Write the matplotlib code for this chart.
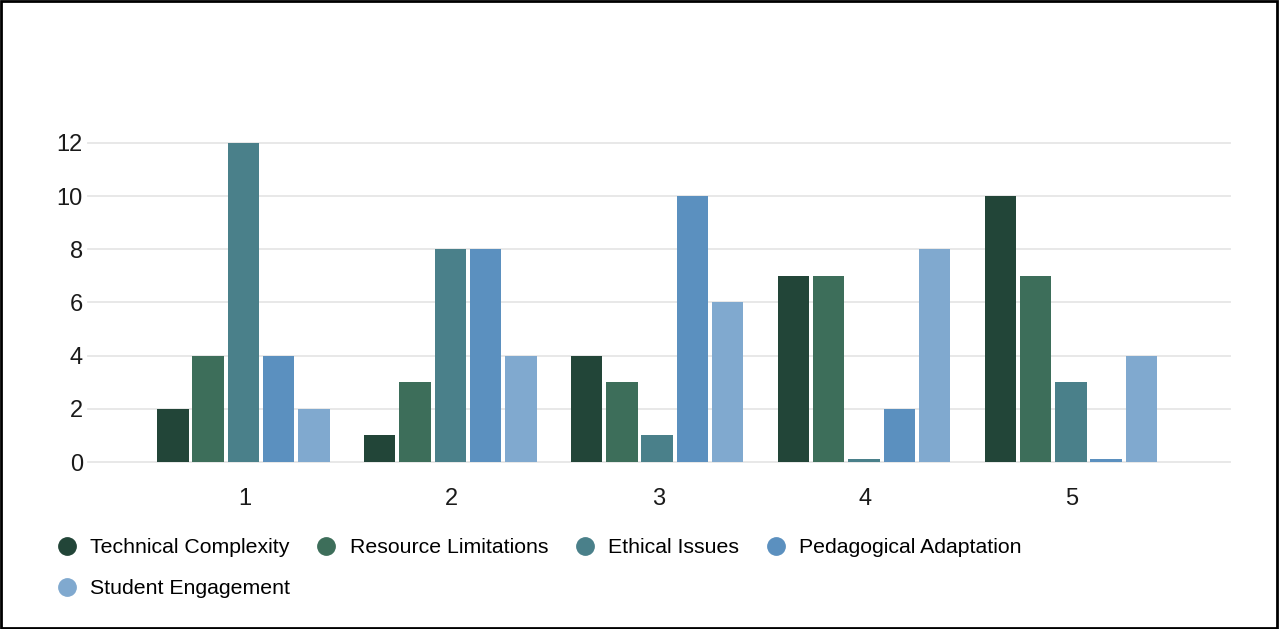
import matplotlib
matplotlib.use("Agg")
import matplotlib.pyplot as plt
import numpy as np
from matplotlib.lines import Line2D
from matplotlib.patches import Rectangle

plt.rcParams['font.family'] = ['Liberation Sans', 'DejaVu Sans']

categories = ["1", "2", "3", "4", "5"]
series_names = ["Technical Complexity", "Resource Limitations", "Ethical Issues",
                "Pedagogical Adaptation", "Student Engagement"]
technical = [2, 1, 4, 7, 10]
resource = [4, 3, 3, 7, 7]
ethical = [12, 8, 1, 0.1, 3]
pedagogical = [4, 8, 10, 2, 0.1]
student = [2, 4, 6, 8, 4]
colors = ["#224538", "#3d6e5a", "#4a808a", "#5b90bf", "#80a9cf"]

values = [technical, resource, ethical, pedagogical, student]

fig = plt.figure(figsize=(12.8, 6.29), dpi=100)
ax = fig.add_axes([0.069, 0.2655, 0.892, 0.5072])

x = np.arange(len(categories))
step = 0.1705
width = 0.152
for i, (name, vals, c) in enumerate(zip(series_names, values, colors)):
    ax.bar(x + (i - 2) * step - 0.005, vals, width=width, color=c, label=name, zorder=3)

ax.set_xlim(-0.755, len(categories) - 1 + 0.765)
ax.set_ylim(0, 12)
ax.set_yticks([0, 2, 4, 6, 8, 10, 12])
ax.set_xticks(x)
ax.set_xticklabels(categories)
ax.tick_params(axis='both', length=0, labelsize=17, colors='#1a1a1a')
ax.tick_params(axis='x', pad=19)
ax.tick_params(axis='y', pad=4)
for s in ax.spines.values():
    s.set_visible(False)
ax.grid(axis='y', color='#e6e6e6', linewidth=1.3, zorder=0)
ax.set_axisbelow(True)
for gl in ax.get_ygridlines():
    gl.set_clip_on(False)

handles = [Line2D([0], [0], marker='o', linestyle='none', markersize=12.5,
                  markerfacecolor=c, markeredgecolor=c) for c in colors]
# matplotlib fills legend columns top-down; reorder so entries read row-wise
order = [0, 4, 1, 2, 3]
leg = fig.legend([handles[k] for k in order], [series_names[k] for k in order],
                 loc='upper left', ncol=4, frameon=False, fontsize=15.3,
                 handlelength=1.0, handletextpad=0.6, columnspacing=1.22,
                 labelspacing=1.04, borderaxespad=0, borderpad=0)
leg.set_bbox_to_anchor((0.0437, 1 - 538 / 629), transform=fig.transFigure)

fig.patches.append(Rectangle((0.001, 0.002), 0.997, 0.996, transform=fig.transFigure,
                             fill=False, edgecolor='black', linewidth=2))

fig.savefig("out.png", dpi=100)
